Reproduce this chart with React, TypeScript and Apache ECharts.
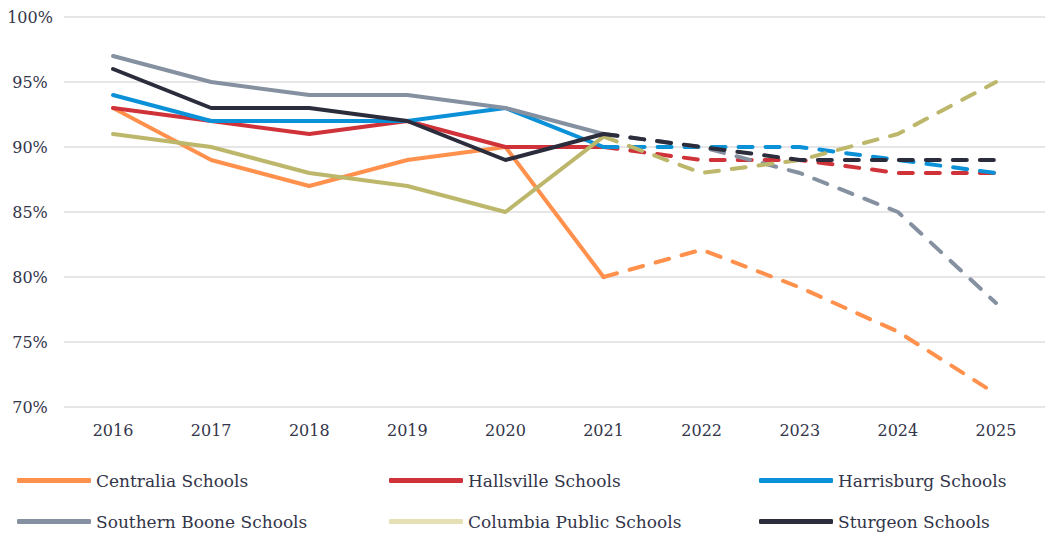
import React, { useEffect, useRef } from "react";
import * as echarts from "echarts";

const years = ["2016", "2017", "2018", "2019", "2020", "2021", "2022", "2023", "2024", "2025"];
const schoolNames = [
  "Centralia Schools",
  "Hallsville Schools",
  "Harrisburg Schools",
  "Southern Boone Schools",
  "Columbia Public Schools",
  "Sturgeon Schools",
];
const centralia = [93, 89, 87, 89, 90, 80, 82.1, 79.2, 75.8, 71];
const hallsville = [93, 92, 91, 92, 90, 90, 89, 89, 88, 88];
const harrisburg = [94, 92, 92, 92, 93, 90, 90, 90, 89, 88];
const southernBoone = [97, 95, 94, 94, 93, 91, 90, 88, 85, 78];
const columbia = [91, 90, 88, 87, 85, 90.8, 88, 89, 91, 95];
const sturgeon = [96, 93, 93, 92, 89, 91, 90, 89, 89, 89];
const lineColors = ["#FF914D", "#D0323A", "#0A91D8", "#8591A1", "#BDB76B", "#2B2D3C"];
const legendColors = ["#FF914D", "#D0323A", "#0A91D8", "#8591A1", "#E6E0B6", "#2B2D3C"];
const lastActualIndex = 5;

export default function App() {
  const ref = useRef<HTMLDivElement>(null);
  useEffect(() => {
    if (!ref.current) return;
    const chart = echarts.init(ref.current, undefined, { renderer: "svg" });
    const all = [centralia, hallsville, harrisburg, southernBoone, columbia, sturgeon];
    const series: any[] = [];
    all.forEach((vals, i) => {
      const solid = vals.map((v, k) => (k <= lastActualIndex ? v : null));
      const dashed = vals.map((v, k) => (k >= lastActualIndex ? v : null));
      series.push({
        name: schoolNames[i],
        type: "line",
        data: solid,
        showSymbol: false,
        symbol: "none",
        lineStyle: { color: lineColors[i], width: 4, cap: "round", join: "round" },
        itemStyle: { color: legendColors[i] },
        z: 2,
      });
      series.push({
        name: schoolNames[i],
        type: "line",
        data: dashed,
        showSymbol: false,
        symbol: "none",
        lineStyle: { color: lineColors[i], width: 4, type: [14, 13], cap: "round", join: "round" },
        itemStyle: { color: legendColors[i] },
        z: 2,
      });
    });
    const textColor = "#33354A";
    const font = "'DejaVu Serif', serif";
    const colX = [12, 384, 754];
    const rowY = [467, 508];
    const legends = schoolNames.map((n, i) => ({
      orient: "horizontal",
      left: colX[i % 3],
      top: rowY[Math.floor(i / 3)],
      itemWidth: 74,
      itemHeight: 5,
      icon: "roundRect",
      selectedMode: false,
      textStyle: { color: textColor, fontFamily: font, fontSize: 17, padding: [0, 0, 0, 0] },
      data: [{ name: n, itemStyle: { color: legendColors[i] } }],
    }));
    chart.setOption({
      animation: false,
      backgroundColor: "#ffffff",
      grid: { left: 64, right: 6, top: 17, height: 390 },
      xAxis: {
        type: "category",
        data: years,
        boundaryGap: true,
        axisLine: { show: false },
        axisTick: { show: false },
        axisLabel: { color: textColor, fontFamily: font, fontSize: 16, margin: 15 },
      },
      yAxis: {
        type: "value",
        min: 70,
        max: 100,
        interval: 5,
        axisLine: { show: false },
        axisTick: { show: false },
        axisLabel: {
          color: textColor,
          fontFamily: font,
          fontSize: 16,
          formatter: "{value}%",
          align: "center",
          margin: 34,
        },
        splitLine: { lineStyle: { color: "#E6E6E6", width: 2 } },
      },
      legend: legends,
      series,
    });
    return () => chart.dispose();
  }, []);
  return (
    <div
      ref={ref}
      style={{ position: "fixed", left: 0, top: 0, width: 1051, height: 535, background: "#fff" }}
    />
  );
}
